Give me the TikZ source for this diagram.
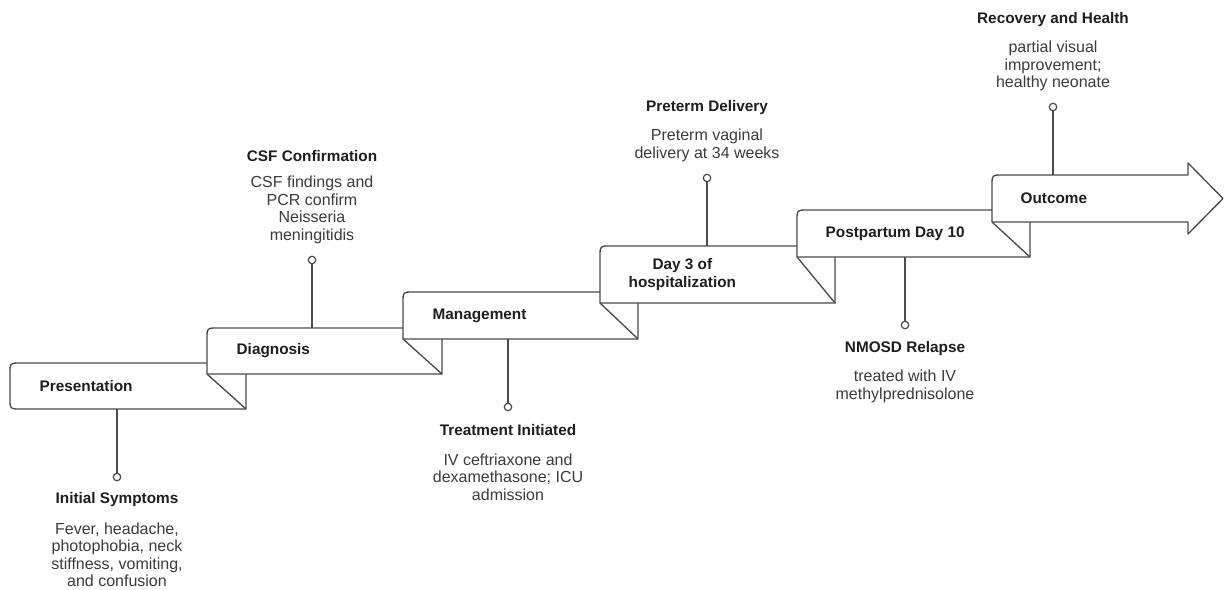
\documentclass[tikz,border=0pt]{standalone}
\usepackage{fontspec}
\setmainfont{Liberation Sans}
\definecolor{linegray}{HTML}{4A4A4A}
\definecolor{titlecol}{HTML}{1E1E1E}
\definecolor{desccol}{HTML}{3C3C3C}
\begin{document}
\begin{tikzpicture}[x=0.75pt,y=-0.75pt,line width=1pt,
  stepshape/.style={draw=linegray,fill=white,line join=round},
  foldline/.style={draw=linegray,line cap=round},
  pinline/.style={draw=linegray},
  pindot/.style={circle,draw=linegray,fill=white,line width=0.9pt,inner sep=0pt,minimum size=5.6pt},
  steplabel/.style={anchor=west,font=\bfseries\fontsize{11.5}{13}\selectfont,text=titlecol,align=center,inner sep=0pt},
  evtitle/.style={font=\bfseries\fontsize{11.5}{13}\selectfont,text=titlecol,inner sep=0pt},
  evdesc/.style={font=\fontsize{12}{13.1}\selectfont,text=desccol,align=center,inner sep=0pt}]
\useasboundingbox[fill=white] (0,0) rectangle (1226,589);

% step 1
\filldraw[stepshape] (207,363) -- (20,363) .. controls (10,363) .. (10,373) -- (10,399) .. controls (10,409) .. (20,409) -- (246,409) -- (246,374);
\draw[foldline] (207,374) -- (246,409);
% step 2
\filldraw[stepshape] (403,328) -- (217,328) .. controls (207,328) .. (207,338) -- (207,374) -- (442,374) -- (442,339);
\draw[foldline] (403,339) -- (442,374);
% step 3
\filldraw[stepshape] (600,292) -- (413,292) .. controls (403,292) .. (403,302) -- (403,339) -- (638,339) -- (638,303);
\draw[foldline] (600,303) -- (638,339);
% step 4
\filldraw[stepshape] (797,246) -- (610,246) .. controls (600,246) .. (600,256) -- (600,303) -- (835,303) -- (835,257);
\draw[foldline] (797,257) -- (835,303);
% step 5
\filldraw[stepshape] (992,210) -- (807,210) .. controls (797,210) .. (797,220) -- (797,257) -- (1030,257) -- (1030,222);
\draw[foldline] (992,222) -- (1030,257);
% step 6 (arrow)
\filldraw[stepshape] (992,222) -- (992,185) .. controls (992,175) .. (1002,175) -- (1188,175) -- (1188,163) -- (1223,198.5) -- (1188,234) -- (1188,222) -- cycle;

% step labels
\node[steplabel] (lbl1) at (39,386) {Presentation};
\node[steplabel] (lbl2) at (236,351) {Diagnosis};
\node[steplabel] (lbl3) at (432,315.5) {Management};
\node[steplabel] (lbl4) at (628,274.5) {Day 3 of\\hospitalization};
\node[steplabel] (lbl5) at (825,233.5) {Postpartum Day 10};
\node[steplabel] (lbl6) at (1020,198.5) {Outcome};

% pins
\coordinate (p1) at (117,409);
\node[pindot] (d1) at (117,477) {};
\draw[pinline] (p1) -- (d1);
\node[evtitle] (t1) at (117,500) {Initial Symptoms};
\node[evdesc] (e1) at (117,555) {Fever, headache,\\photophobia, neck\\stiffness, vomiting,\\and confusion};

\coordinate (p2) at (312,328);
\node[pindot] (d2) at (312,260) {};
\draw[pinline] (p2) -- (d2);
\node[evtitle] (t2) at (312,156) {CSF Confirmation};
\node[evdesc] (e2) at (312,210) {CSF findings and\\PCR confirm\\Neisseria\\meningitidis};

\coordinate (p3) at (508,339);
\node[pindot] (d3) at (508,407) {};
\draw[pinline] (p3) -- (d3);
\node[evtitle] (t3) at (508,430) {Treatment Initiated};
\node[evdesc] (e3) at (508,477) {IV ceftriaxone and\\dexamethasone; ICU\\admission};

\coordinate (p4) at (707,246);
\node[pindot] (d4) at (707,178) {};
\draw[pinline] (p4) -- (d4);
\node[evtitle] (t4) at (707,108) {Preterm Delivery};
\node[evdesc] (e4) at (707,145.5) {Preterm vaginal\\delivery at 34 weeks};

\coordinate (p5) at (905,257);
\node[pindot] (d5) at (905,325) {};
\draw[pinline] (p5) -- (d5);
\node[evtitle] (t5) at (905,349) {NMOSD Relapse};
\node[evdesc] (e5) at (905,386.5) {treated with IV\\methylprednisolone};

\coordinate (p6) at (1053,175);
\node[pindot] (d6) at (1053,107) {};
\draw[pinline] (p6) -- (d6);
\node[evtitle] (t6) at (1053,20) {Recovery and Health};
\node[evdesc] (e6) at (1053,66) {partial visual\\improvement;\\healthy neonate};
\end{tikzpicture}
\end{document}
